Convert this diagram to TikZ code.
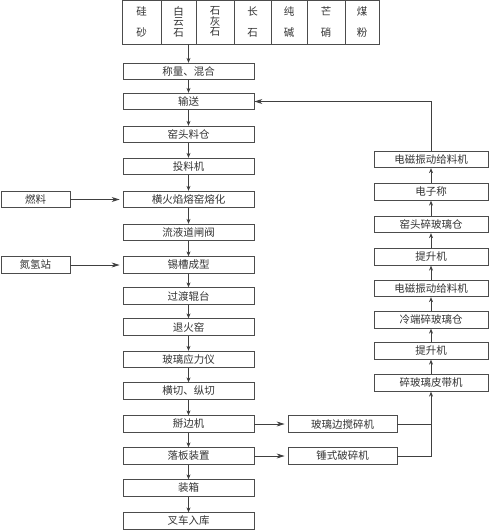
\documentclass[tikz,border=0pt]{standalone}
\usepackage{fontspec}
\setmainfont{Noto Sans CJK SC}
\usetikzlibrary{arrows.meta}
\begin{document}
\begin{tikzpicture}[x=1pt,y=-1pt,
  line width=0.8pt,
  every node/.style={font=\fontsize{10.5}{12}\selectfont, text=black!80},
  box/.style={draw=black!70, rectangle, minimum height=16.5pt, inner sep=0pt, anchor=center},
  mainbox/.style={box, minimum width=131pt},
  rbox/.style={box, minimum width=114pt},
  mbox/.style={box, minimum width=109pt},
  lbox/.style={box, minimum width=69pt},
  arr/.style={draw=black!75, -{Stealth[length=5pt,width=4pt]}},
  harr/.style={draw=black!75, -{Stealth[length=8pt,width=5pt]}, shorten >=3pt},
  ln/.style={draw=black!75}]
\useasboundingbox (0,0) rectangle (489,530);
% table of raw materials
\draw[black!70] (122,0.5) rectangle (379,44);
\foreach \x in {161,196,234,271,307,345} \draw[black!70] (\x,0.5) -- (\x,44);
\node[align=center, font=\fontsize{10.5}{21}\selectfont] (c1) at (141.5,22.5) {硅\\砂};
\node[align=center, font=\fontsize{10.5}{10.5}\selectfont] (c2) at (178.5,21.5) {白\\云\\石};
\node[align=center, font=\fontsize{10.5}{10.5}\selectfont] (c3) at (215,21.5) {石\\灰\\石};
\node[align=center, font=\fontsize{10.5}{21}\selectfont] (c4) at (252.5,22.5) {长\\石};
\node[align=center, font=\fontsize{10.5}{21}\selectfont] (c5) at (289,22.5) {纯\\碱};
\node[align=center, font=\fontsize{10.5}{21}\selectfont] (c6) at (326,22.5) {芒\\硝};
\node[align=center, font=\fontsize{10.5}{21}\selectfont] (c7) at (362,22.5) {煤\\粉};
\coordinate (tb) at (188.5,44);
% main column
\node[mainbox] (m1) at (188.5,71.5) {称量、混合};
\node[mainbox] (m2) at (188.5,101.5) {输送};
\node[mainbox] (m3) at (188.5,134.5) {窑头料仓};
\node[mainbox] (m4) at (188.5,166.5) {投料机};
\node[mainbox] (m5) at (188.5,199.5) {横火焰熔窑熔化};
\node[mainbox] (m6) at (188.5,232.5) {流液道闸阀};
\node[mainbox] (m7) at (188.5,265) {锡槽成型};
\node[mainbox] (m8) at (188.5,296) {过渡辊台};
\node[mainbox] (m9) at (188.5,327) {退火窑};
\node[mainbox] (m10) at (188.5,359.5) {玻璃应力仪};
\node[mainbox] (m11) at (188.5,391) {横切、纵切};
\node[mainbox] (m12) at (188.5,424) {掰边机};
\node[mainbox] (m13) at (188.5,456) {落板装置};
\node[mainbox] (m14) at (188.5,488) {装箱};
\node[mainbox] (m15) at (188.5,521) {叉车入库};
% left inputs
\node[lbox] (l1) at (35.5,199.5) {燃料};
\node[lbox] (l2) at (35.5,265) {氮氢站};
% middle
\node[mbox] (b1) at (342.5,424) {玻璃边搅碎机};
\node[mbox] (b2) at (342.5,456) {锤式破碎机};
% right column
\node[rbox] (r1) at (431,159.5) {电磁振动给料机};
\node[rbox] (r2) at (431,192) {电子称};
\node[rbox] (r3) at (431,224.5) {窑头碎玻璃仓};
\node[rbox] (r4) at (431,257) {提升机};
\node[rbox] (r5) at (431,288.5) {电磁振动给料机};
\node[rbox] (r6) at (431,320) {冷端碎玻璃仓};
\node[rbox] (r7) at (431,351) {提升机};
\node[rbox] (r8) at (431,383) {碎玻璃皮带机};
% main arrows
\draw[arr] (tb) -- (m1);
\foreach \a/\b in {m1/m2,m2/m3,m3/m4,m4/m5,m5/m6,m6/m7,m7/m8,m8/m9,m9/m10,m10/m11,m11/m12,m12/m13,m13/m14,m14/m15}
  \draw[arr] (\a) -- (\b);
\draw[harr] (l1) -- (m5);
\draw[harr] (l2) -- (m7);
\draw[harr] (m12) -- (b1);
\draw[harr] (m13) -- (b2);
% right column arrows (upwards)
\foreach \a/\b in {r8/r7,r7/r6,r6/r5,r5/r4,r4/r3,r3/r2,r2/r1}
  \draw[arr] (\a) -- (\b);
\coordinate (j1) at (431,424);
\draw[ln] (b1.east) -- (j1);
\draw[arr] (b2.east) -| (r8.south);
\draw[harr, shorten >=0pt] (r1.north) |- (m2.east);
\end{tikzpicture}
\end{document}
